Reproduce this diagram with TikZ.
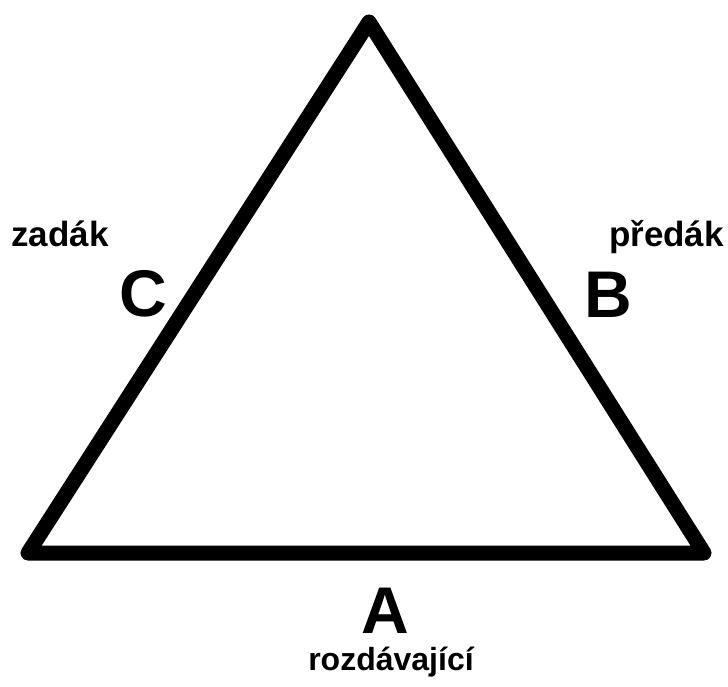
\documentclass[tikz,border=0pt]{standalone}
\usepackage{fontspec}
\setmainfont{Liberation Sans}
\begin{document}
\begin{tikzpicture}[x=1pt,y=1pt,
  lbl/.style={font=\bfseries\fontsize{35}{38}\selectfont, inner sep=0pt},
  big/.style={font=\bfseries\fontsize{66}{70}\selectfont, inner sep=0pt}]
\useasboundingbox (0,0) rectangle (728,686);
\coordinate (top) at (369,664);
\coordinate (bl) at (28,133);
\coordinate (br) at (704,133);
\draw[line width=15pt, line join=round, line cap=round] (top) -- (br) -- (bl) -- cycle;
\node[lbl, anchor=base west] (zadak) at (11,439) {zadák};
\node[big, anchor=base] (c) at (143,369) {C};
\node[lbl, anchor=base east] (predak) at (724,439) {předák};
\node[big, anchor=base] (b) at (608,368) {B};
\node[big, anchor=base] (a) at (385,53) {A};
\node[lbl, font=\bfseries\fontsize{32}{36}\selectfont, anchor=base] (rozd) at (391,16) {rozdávající};
\end{tikzpicture}
\end{document}
